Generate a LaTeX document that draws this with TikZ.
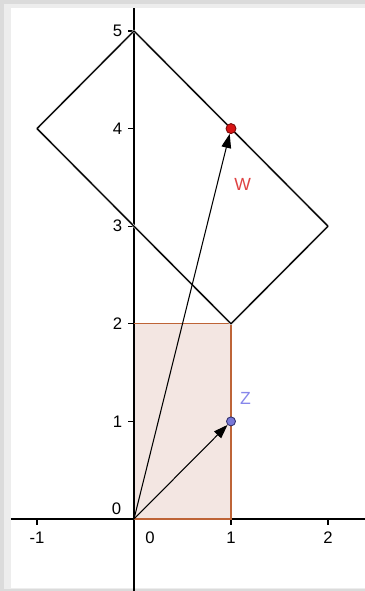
\documentclass[tikz,border=0pt]{standalone}
\usepackage{fontspec}
\setmainfont{Liberation Sans}
\usetikzlibrary{arrows.meta}
\definecolor{rectfill}{RGB}{243,230,226}
\definecolor{rectedge}{RGB}{190,100,55}
\definecolor{wred}{RGB}{215,20,20}
\definecolor{zblue}{RGB}{120,120,215}
\definecolor{zlabel}{RGB}{135,135,235}
\begin{document}
\begin{tikzpicture}[x=1.94cm,y=1.952cm,
  axis/.style={line width=0.85pt,black},
  tick/.style={line width=0.6pt,black},
  ticklabel/.style={font=\fontsize{9.5}{10}\selectfont,inner sep=0pt},
  sq/.style={line width=0.75pt,black,line join=round},
  vec/.style={line width=0.6pt,black,-{Triangle[length=8pt,width=5.5pt]}},
  ptW/.style={circle,draw={rgb,255:red,120;green,10;blue,10},fill=wred,line width=0.5pt,inner sep=0pt,minimum size=0.2cm},
  ptZ/.style={circle,draw={rgb,255:red,50;green,50;blue,110},fill=zblue,line width=0.5pt,inner sep=0pt,minimum size=0.18cm},
  lbl/.style={font=\fontsize{10}{11}\selectfont,inner sep=0pt}]
\useasboundingbox (-1.3814,-0.7377) rectangle (2.3814,5.3176);
% frame shadow
\fill[gray!28] (-1.3814,-0.7377) rectangle (2.3814,5.3176);
\fill[gray!14] (-1.34,-0.72) rectangle (2.3814,5.28);
\fill[white] (-1.268,-0.707) rectangle (2.3814,5.2357);
% rectangle fill
\coordinate (O) at (0,0);
\coordinate (R1) at (1,0);
\coordinate (R2) at (1,2);
\coordinate (R3) at (0,2);
\fill[rectfill] (O) rectangle (R2);
% axes
\draw[axis] (-1.268,0) -- (2.3814,0);
\draw[axis] (0,-0.7377) -- (0,5.2357);
% ticks
\foreach \x in {-1,1,2} \draw[tick] (\x,0) -- (\x,-0.06);
\foreach \y in {1,...,5} \draw[tick] (0,\y) -- (-0.06,\y);
% tick labels
\node[ticklabel] (xm1) at (-1,-0.19) {-1};
\node[ticklabel] (x0) at (0.165,-0.19) {0};
\node[ticklabel] (x1) at (1.0,-0.19) {1};
\node[ticklabel] (x2) at (2.0,-0.19) {2};
\foreach \y in {1,...,5} \node[ticklabel] (y\y) at (-0.17,\y) {\y};
\node[ticklabel] (y0) at (-0.18,0.11) {0};
% rectangle border
\draw[rectedge,line width=0.65pt] (O) -- (R1) -- (R2) -- (R3);
% rotated square
\coordinate (A) at (0,5);
\coordinate (B) at (-1,4);
\coordinate (C) at (1,2);
\coordinate (D) at (2,3);
\draw[gray!25,line width=1.4pt,line join=round,shift={(0.012,-0.012)}] (A) -- (B) -- (C) -- (D) -- cycle;
\draw[sq] (A) -- (B) -- (C) -- (D) -- cycle;
% points
\node[ptW] (W) at (1,4) {};
\node[ptZ] (Z) at (1,1) {};
% vectors
\draw[vec] (O) -- (W);
\draw[vec] (O) -- (Z);
% labels
\node[lbl,text=wred!80] (Wl) at (1.12,3.43) {W};
\node[lbl,text=zlabel] (Zl) at (1.15,1.24) {Z};
\end{tikzpicture}
\end{document}
